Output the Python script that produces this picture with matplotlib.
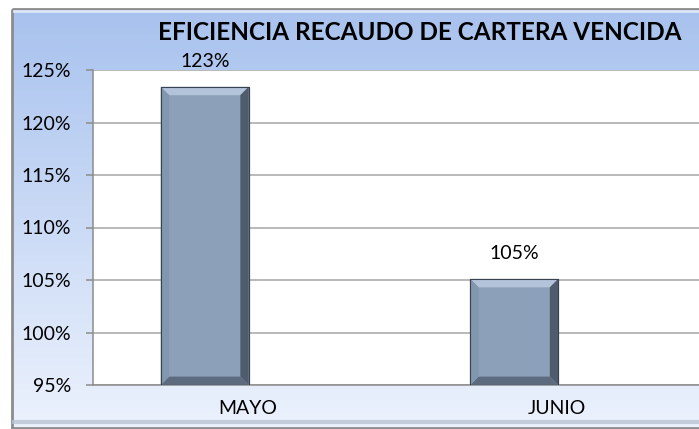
import numpy as np
import matplotlib.pyplot as plt
from matplotlib.patches import Rectangle, Polygon
from matplotlib.ticker import FuncFormatter

categories = ["MAYO", "JUNIO"]
values = [123.4, 105.1]
labels = ["123%", "105%"]
yticks = [95, 100, 105, 110, 115, 120, 125]

plt.rcParams['font.family'] = ['Lato', 'DejaVu Sans']

W, H = 699, 429
fig = plt.figure(figsize=(W / 100, H / 100), dpi=100)
fig.patch.set_facecolor('white')

# chart area background: vertical gradient, slight bevel border
bg = fig.add_axes([0, 0, 1, 1], zorder=-1)
bg.set_xlim(0, W)
bg.set_ylim(H, 0)
bg.axis('off')
top = np.array([168, 194, 238]) / 255
bot = np.array([236, 242, 253]) / 255
t = np.linspace(0, 1, 256)[:, None]
grad = (top[None, :] * (1 - t) + bot[None, :] * t)[:, None, :]
bg.imshow(grad, extent=(12, 720, 428, 9), aspect='auto', interpolation='bilinear')
bg.add_patch(Rectangle((12, 9), 710, 419, fill=False, ec='#8c8c8c', lw=2))
bg.plot([14, 720], [422, 422], color='#b9c3d2', lw=3, alpha=0.8)
bg.plot([14, 720], [11, 11], color='#dbe6f8', lw=2)

ax = fig.add_axes([93 / W, 1 - 385 / H, 619 / W, 315 / H])
ax.set_facecolor('white')
x = np.arange(len(categories))
off = -0.139
bw = 0.284
ax.set_xlim(-0.5, 1.5)
ax.set_ylim(95, 125)
ax.set_yticks(yticks)
ax.yaxis.set_major_formatter(FuncFormatter(lambda v, p: f"{v:.0f}%"))
ax.grid(axis='y', color='#a6a6a6', lw=1.1, zorder=0)
ax.set_axisbelow(True)
for s in ['top', 'right']:
    ax.spines[s].set_visible(False)
for s in ['left', 'bottom']:
    ax.spines[s].set_color('#8c8c8c')
    ax.spines[s].set_linewidth(1.1)
ax.tick_params(axis='y', length=5, width=1.1, color='#8c8c8c', pad=11, labelsize=14, labelcolor='#000000')
ax.set_xticks(x)
ax.set_xticklabels(categories)
ax.tick_params(axis='x', length=0, pad=11, labelsize=14)

bars = ax.bar(x + off, np.array(values) - 95, bw, bottom=95, color='#8ca0b9',
              edgecolor='#39434f', lw=0.8, zorder=2)

# bevel: light top, dark right and bottom
bx = 0.027
by = 0.8
for b in bars:
    x0, y0 = b.get_x(), b.get_y()
    x1, y1 = x0 + b.get_width(), y0 + b.get_height()
    faces = [
        ([(x0, y1), (x1, y1), (x1 - bx, y1 - by), (x0 + bx, y1 - by)], '#b3c4da'),
        ([(x1, y1), (x1, y0), (x1 - bx, y0 + by), (x1 - bx, y1 - by)], '#4f5c6d'),
        ([(x0, y0), (x1, y0), (x1 - bx, y0 + by), (x0 + bx, y0 + by)], '#5d6b7e'),
        ([(x0, y0), (x0, y1), (x0 + bx, y1 - by), (x0 + bx, y0 + by)], '#8296ae'),
    ]
    for pts, c in faces:
        ax.add_patch(Polygon(pts, closed=True, fc=c, ec='none', zorder=3))
    ax.add_patch(Rectangle((x0, y0), x1 - x0, y1 - y0, fill=False, ec='#39434f', lw=0.8, zorder=4))

for xi, v, lab in zip(x + off, values, labels):
    ax.annotate(lab, (xi, v), xytext=(0, 18), textcoords='offset points',
                ha='center', va='center', fontsize=14, annotation_clip=False)

fig.text(420 / W, 1 - 33 / H, "EFICIENCIA RECAUDO DE CARTERA VENCIDA",
         ha='center', va='center', fontsize=17.5, fontweight='bold')

fig.savefig('out.png', dpi=100)
